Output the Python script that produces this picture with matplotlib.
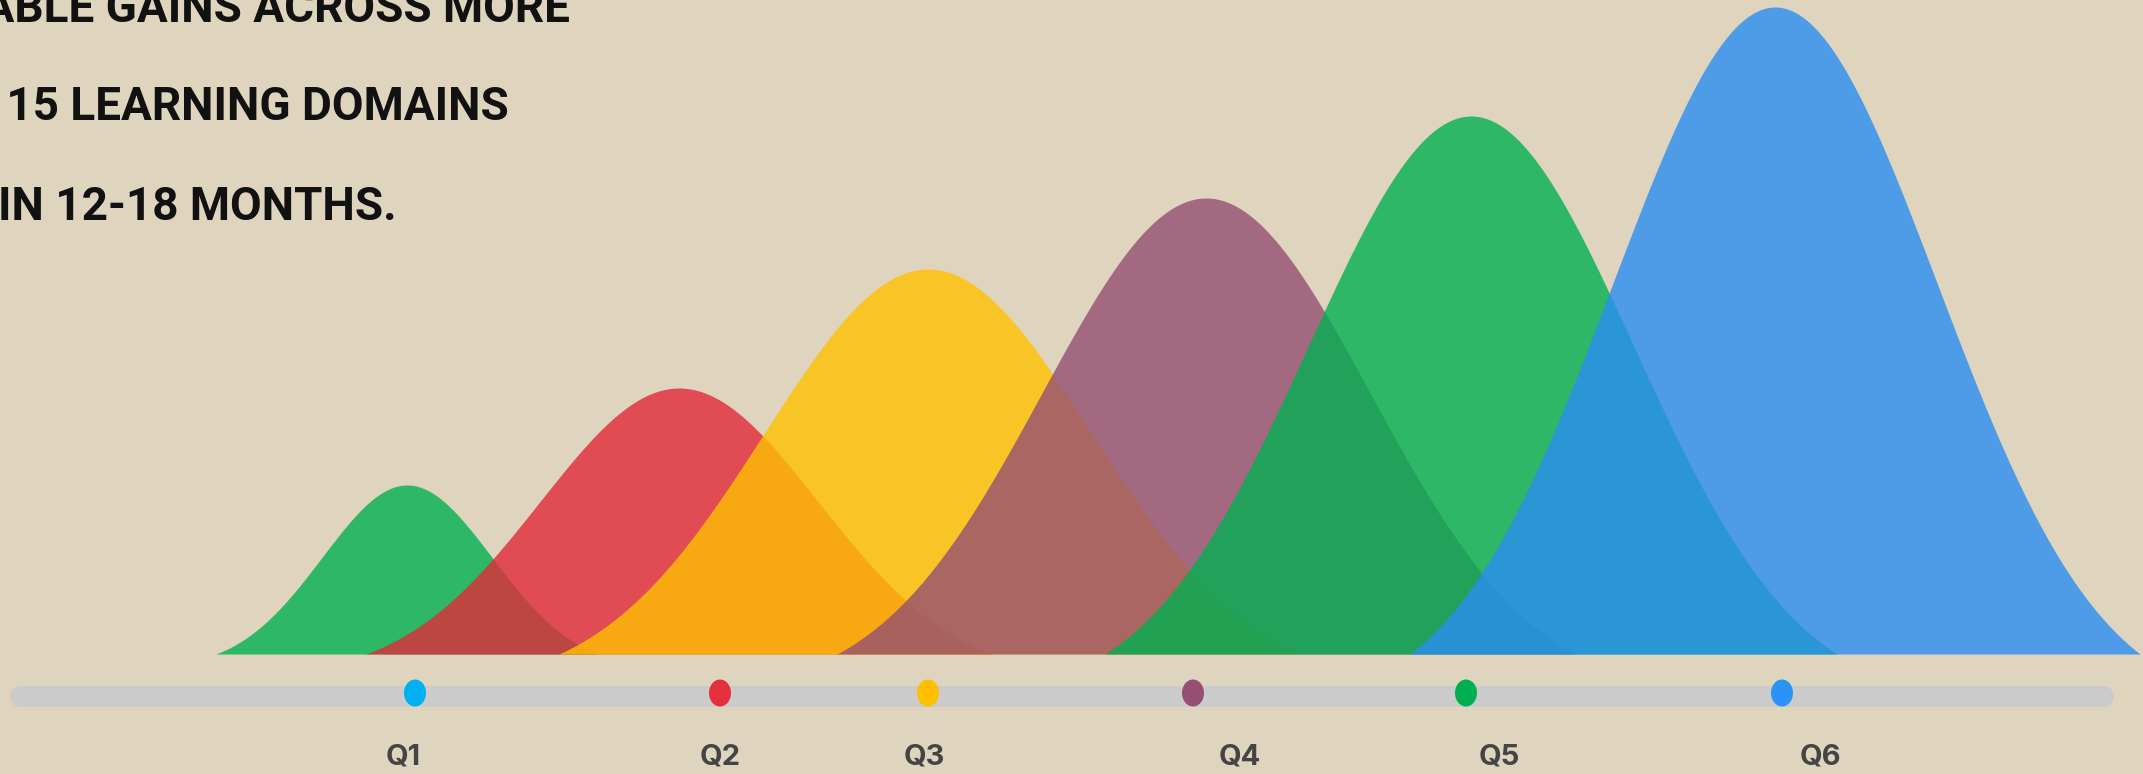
import numpy as np
import matplotlib
matplotlib.use("Agg")
import matplotlib.pyplot as plt
from matplotlib.patches import Ellipse

# ---------------------------------------------------------------
# data (chart units: x along the timeline, height above baseline)
# ---------------------------------------------------------------
quarters = ["Q1", "Q2", "Q3", "Q4", "Q5", "Q6"]

peak_centers = [407, 679, 928, 1206, 1471, 1775]
peak_heights = [169, 266, 385, 456, 538, 647]
peak_halfwidths = [191, 313, 369, 369, 366, 365]
peak_colors = ["#00b050", "#e22a3a", "#ffc000", "#954f72", "#00b050", "#2a8ef2"]

dot_x = [415, 720, 928, 1193, 1466, 1782]
dot_colors = ["#00b0f0", "#e3303c", "#ffc000", "#954f72", "#00b050", "#2b93f5"]
label_x = [403, 720, 924, 1240, 1499, 1820]

title_lines = [
    "MEASURABLE GAINS ACROSS MORE",
    "THAN 15 LEARNING DOMAINS",
    "IN 12-18 MONTHS.",
]
title_right = [570, 509, 397]
title_base = [632, 534, 434]

BG = "#dfd4bd"


def bell(c, h, w, n=400):
    # truncated gaussian bump that lands on the baseline at c +- w
    t = np.linspace(-w, w, n)
    s = w / 2.25
    g = np.exp(-t ** 2 / (2 * s ** 2))
    e0 = np.exp(-w ** 2 / (2 * s ** 2))
    return c + t, h * (g - e0) / (1 - e0)


fig = plt.figure(figsize=(21.43, 7.74), dpi=100)
fig.patch.set_facecolor(BG)
ax = fig.add_axes([0, 0, 1, 1])
ax.set_facecolor(BG)
ax.set_xlim(0, 2143)
ax.set_ylim(-120, 654)
ax.axis("off")

# bell curves, later ones on top
for c, h, w, col in zip(peak_centers, peak_heights, peak_halfwidths, peak_colors):
    xs, ys = bell(c, h, w)
    ax.fill_between(xs, 0, ys, color=col, alpha=0.8, linewidth=0)

# timeline bar
ax.plot([19.5, 2102.5], [-41.5, -41.5], lw=21 * 72 / 100, color="#cbcbcb",
        solid_capstyle="round", zorder=3)

# quarter markers
for x, col in zip(dot_x, dot_colors):
    ax.add_patch(Ellipse((x, -39), 22, 27, facecolor=col, edgecolor="none", zorder=4))

for x, q in zip(label_x, quarters):
    ax.text(x, -103, q, ha="center", va="center", fontsize=21, color="#444444",
            fontweight="bold", family=["Inter", "DejaVu Sans"])

# headline, cut off on the left like the original
for line, xr, yb in zip(title_lines, title_right, title_base):
    ax.text(xr, yb, line, ha="right", va="baseline", fontsize=33, color="#111111",
            fontweight="bold", family=["Roboto", "DejaVu Sans"])

fig.savefig("out.png", dpi=100, facecolor=BG)
plt.close(fig)
